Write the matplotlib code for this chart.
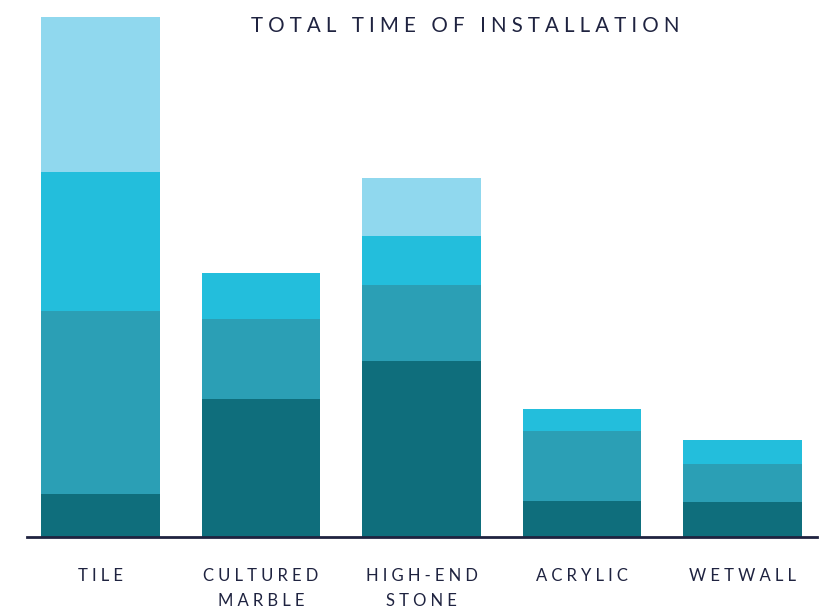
import matplotlib.pyplot as plt
import numpy as np

# stacked segments, bottom to top (arbitrary time units)
categories = ['TILE', 'CULTURED\nMARBLE', 'HIGH-END\nSTONE', 'ACRYLIC', 'WETWALL']
seg1 = [4.3, 13.8, 17.6, 3.6, 3.5]
seg2 = [18.3, 8.0, 7.6, 7.0, 3.8]
seg3 = [13.9, 4.6, 4.9, 2.2, 2.4]
seg4 = [15.5, 0.0, 5.8, 0.0, 0.0]

colors = ['#0f6e7c', '#2b9fb5', '#23bedc', '#90d8ee']
ink = '#1f2340'
sp = '\u2005'


def spaced(s):
    return '\n'.join(sp.join(line) for line in s.split('\n'))


plt.rcParams['font.family'] = ['Lato', 'DejaVu Sans']

fig = plt.figure(figsize=(8.31, 6.10), dpi=100)
ax = fig.add_axes([27 / 831, 73 / 610, 790 / 831, 520 / 610])

x = np.arange(len(categories))
bottom = np.zeros(len(categories))
for vals, c in zip([seg1, seg2, seg3, seg4], colors):
    ax.bar(x, vals, width=0.741, bottom=bottom, color=c, linewidth=0)
    bottom += np.array(vals)

ax.set_xlim(-0.458, 4.464)
ax.set_ylim(0, 52.0)
for s in ['top', 'right', 'left']:
    ax.spines[s].set_visible(False)
ax.spines['bottom'].set_color(ink)
ax.spines['bottom'].set_linewidth(2)
ax.set_yticks([])
ax.set_xticks(x)
ax.set_xticklabels([spaced(c) for c in categories], fontsize=12, color=ink,
                   linespacing=1.75, va='top')
ax.tick_params(axis='x', length=0, pad=22)

fig.text(465 / 831, 1 - 26 / 610, spaced('TOTAL TIME OF INSTALLATION'),
         ha='center', va='center', fontsize=14.8, color=ink)

fig.savefig('out.png', dpi=100)
